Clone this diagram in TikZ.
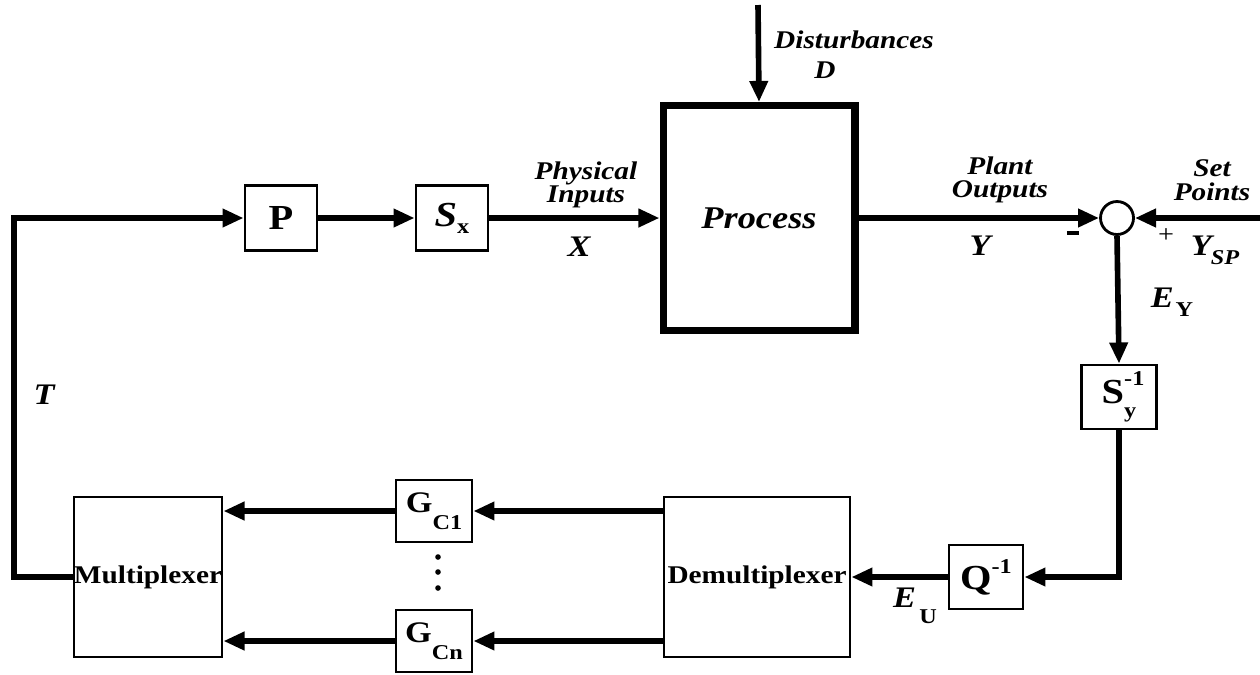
\documentclass[tikz,border=0pt]{standalone}
\usepackage{fontspec}
\usepackage{amsmath}
\setmainfont[FakeStretch=1.15]{Liberation Serif}
\usetikzlibrary{arrows.meta}

\tikzset{
	blk/.style={draw, line width=1.6pt, inner sep=0pt, font=\fontsize{20}{20}\selectfont\bfseries},
	sig/.style={line width=3.2pt, -{Triangle[length=12pt,width=10pt]}},
	lbl/.style={inner sep=0pt, align=center, font=\fontsize{14.5}{13.5}\selectfont\bfseries\itshape},
	var/.style={inner sep=0pt, font=\fontsize{17}{17}\selectfont\bfseries\itshape},
}
\newcommand{\subsc}[1]{{\fontsize{12}{12}\selectfont #1}}

\begin{document}
\begin{tikzpicture}[x=0.02cm, y=-0.02cm]
	\useasboundingbox (0,0) rectangle (1260,674);

	\node[draw, line width=4pt, minimum width=3.84cm, minimum height=4.5cm, inner sep=0pt,
		font=\fontsize{18}{18}\selectfont\bfseries\itshape] (proc) at (759,218) {Process};
	\node[blk, minimum width=1.44cm, minimum height=1.3cm] (pbox) at (281,218) {P};
	\node[blk, minimum width=1.44cm, minimum height=1.3cm] (sxbox) at (452,218) {{\itshape S}\raisebox{-4pt}{\subsc{x}}};
	\node[draw, circle, line width=1.6pt, minimum size=0.66cm, inner sep=0pt] (sum) at (1117,218) {};
	\node[blk, minimum width=1.5cm, minimum height=1.28cm] (sybox) at (1119,397) {S\rlap{\raisebox{10pt}{\subsc{-1}}}\raisebox{-8pt}{\subsc{y}}};
	\node[blk, minimum width=1.48cm, minimum height=1.28cm] (qbox) at (986,577) {Q\raisebox{9pt}{\subsc{-1}}};
	\node[blk, minimum width=3.72cm, minimum height=3.2cm, font=\fontsize{14.5}{14.5}\selectfont\bfseries] (demux) at (757,577) {Demultiplexer};
	\node[blk, minimum width=2.96cm, minimum height=3.2cm, font=\fontsize{14.5}{14.5}\selectfont\bfseries] (mux) at (148,577) {Multiplexer};
	\node[blk, minimum width=1.52cm, minimum height=1.24cm, font=\fontsize{17}{17}\selectfont\bfseries] (gc1) at (434,511) {G\raisebox{-10pt}{\subsc{C1}}};
	\node[blk, minimum width=1.52cm, minimum height=1.24cm, font=\fontsize{17}{17}\selectfont\bfseries] (gcn) at (434,641) {G\raisebox{-10pt}{\subsc{Cn}}};

	\coordinate (dist) at (758,5);
	\coordinate (setpt) at (1260,218);
	\coordinate (corner) at (14,218);

	\draw[sig] (dist) -- (proc.north);
	\draw[sig] (mux.west) -| (corner) -- (pbox.west);
	\draw[sig] (pbox.east) -- (sxbox.west);
	\draw[sig] (sxbox.east) -- (proc.west);
	\draw[sig] (proc.east) -- (sum.west);
	\draw[sig] (setpt) -- (sum.east);
	\draw[sig] (sum.south) -- (sybox.north);
	\draw[sig] (sybox.south) |- (qbox.east);
	\draw[sig] (qbox.west) -- (demux.east);
	\draw[sig] (demux.west |- gc1) -- (gc1.east);
	\draw[sig] (gc1.west) -- (mux.east |- gc1);
	\draw[sig] (demux.west |- gcn) -- (gcn.east);
	\draw[sig] (gcn.west) -- (mux.east |- gcn);

	\foreach \y in {557,572,588}
		\fill (438,\y) circle (2.8);

	\node[lbl] (distlbl) at (854,40) {Disturbances};
	\node[lbl] (dlbl) at (825,70) {D};
	\node[lbl] (inlbl) at (586,185) {Physical\\Inputs};
	\node[lbl] (outlbl) at (1000,180) {Plant\\Outputs};
	\node[lbl] (splbl) at (1212,180) {Set\\Points};
	\node[var] (xlbl) at (579,247) {X};
	\node[var] (ylbl) at (980,246) {Y};
	\node[var] (ysplbl) at (1215,250) {Y\kern-0.5pt\raisebox{-5pt}{\subsc{SP}}};
	\node[var] (eylbl) at (1172,302) {E\kern1pt\raisebox{-5pt}{\subsc{\upshape Y}}};
	\node[var] (eulbl) at (915,606) {E\kern2pt\raisebox{-9pt}{\subsc{\upshape U}}};
	\node[var] (tlbl) at (44,395) {T};
	\node[inner sep=0pt] (minus) at (1073,233) {\rule{7pt}{1.9pt}};
	\node[inner sep=0pt, font=\fontsize{14}{14}\selectfont] (plus) at (1166,236) {+};
\end{tikzpicture}
\end{document}
